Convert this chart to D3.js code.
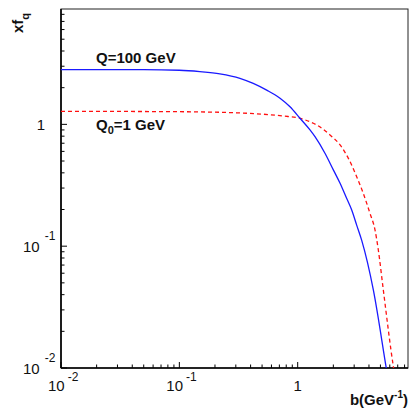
<!DOCTYPE html>
<html><head><meta charset="utf-8">
<script src="https://cdn.jsdelivr.net/npm/d3@7"></script>
<style>body{margin:0;background:#fff}svg{display:block}text{font-family:"Liberation Sans",Arial,sans-serif}</style>
</head><body>
<svg id="c" width="410" height="410"></svg>
<script>
// b values (GeV^-1) and xf_q for each scale
const bQ100 = [0.01, 0.05, 0.1, 0.149, 0.22, 0.325, 0.421, 0.547, 0.709, 0.861, 1.046, 1.27, 1.40, 1.70, 2.0, 2.28, 2.59, 2.86, 3.15, 3.47, 4.36, 5.58, 5.7];
const fQ100 = [2.81, 2.81, 2.78, 2.71, 2.60, 2.39, 2.17, 1.91, 1.64, 1.395, 1.122, 0.90, 0.792, 0.579, 0.423, 0.328, 0.247, 0.198, 0.149, 0.112, 0.0435, 0.0102, 0.0090];
const bQ1 = [0.01, 0.1, 0.3, 0.395, 0.756, 1.05, 1.27, 1.447, 1.875, 2.28, 2.68, 3.15, 3.58, 4.08, 4.50, 4.80, 5.29, 6.43, 6.6];
const fQ1 = [1.28, 1.27, 1.245, 1.23, 1.17, 1.12, 1.05, 0.989, 0.818, 0.678, 0.526, 0.372, 0.272, 0.186, 0.136, 0.093, 0.0437, 0.0103, 0.0088];
const xDecades = [0.01, 0.1, 1];
const xDecadeLabels = [["10","-2"],["10","-1"],["1",""]];
const yDecades = [0.01, 0.1, 1];
const yDecadeLabels = [["10","-2"],["10","-1"],["1",""]];
const seriesLabels = ["Q=100 GeV", "Q", "0", "=1 GeV"];

const L=61, R=408, T=9, B=368;
const x = d3.scaleLog().domain([0.01, 8.55]).range([L, R]);
const y = d3.scaleLog().domain([0.01, 8.85]).range([B, T]);
const svg = d3.select("#c");

svg.append("clipPath").attr("id","clip").append("rect")
  .attr("x",L).attr("y",T).attr("width",R-L).attr("height",B-T);

// minor & major ticks
function minorTicks(dom){
  const out=[];
  for(let e=-2;e<=1;e++){for(let k=1;k<=9;k++){const v=k*Math.pow(10,e); if(v>=dom[0]*0.999&&v<=dom[1]) out.push({v,major:k===1});}}
  return out;
}
const g = svg.append("g");
minorTicks(x.domain()).forEach(t=>{
  const px = x(t.v);
  g.append("line").attr("x1",px).attr("x2",px).attr("y1",B).attr("y2",B-(t.major?6:3.5))
    .attr("stroke","#000").attr("stroke-width",1);
});
minorTicks(y.domain()).forEach(t=>{
  const py = y(t.v);
  g.append("line").attr("x1",L).attr("x2",L+(t.major?6:3.5)).attr("y1",py).attr("y2",py)
    .attr("stroke","#000").attr("stroke-width",1);
});

// frame
svg.append("rect").attr("x",L).attr("y",T).attr("width",R-L).attr("height",B-T)
  .attr("fill","none").attr("stroke","#222").attr("stroke-width",1);
svg.append("line").attr("x1",L).attr("x2",L).attr("y1",T).attr("y2",B).attr("stroke","#000").attr("stroke-width",1.6);
svg.append("line").attr("x1",L).attr("x2",R).attr("y1",B).attr("y2",B).attr("stroke","#000").attr("stroke-width",1.6);

// curves
const line = d3.line().x(d=>x(d[0])).y(d=>y(d[1])).curve(d3.curveMonotoneX);
const cg = svg.append("g").attr("clip-path","url(#clip)");
cg.append("path").datum(bQ1.map((b,i)=>[b,fQ1[i]])).attr("d",line)
  .attr("fill","none").attr("stroke","#ff1010").attr("stroke-width",1.3).attr("stroke-dasharray","4,3");
cg.append("path").datum(bQ100.map((b,i)=>[b,fQ100[i]])).attr("d",line)
  .attr("fill","none").attr("stroke","#1a1aff").attr("stroke-width",1.3);

// x tick labels
xDecades.forEach((v,i)=>{
  const [base,exp]=xDecadeLabels[i];
  const t = svg.append("text").attr("y",391).attr("font-size",15).attr("fill","#111");
  if(exp){
    t.attr("x",x(v)-13).attr("text-anchor","start");
    t.append("tspan").text(base);
    t.append("tspan").attr("dx",3).attr("dy",-10).attr("font-size",12).text(exp);
  } else {
    t.attr("x",x(v)).attr("text-anchor","middle").text(base);
  }
});
// y tick labels
yDecades.forEach((v,i)=>{
  const [base,exp]=yDecadeLabels[i];
  const t = svg.append("text").attr("y",y(v)+6).attr("font-size",15).attr("fill","#111");
  if(exp){
    t.attr("x",23).attr("text-anchor","start");
    t.append("tspan").text(base);
    t.append("tspan").attr("dx",5).attr("dy",-12).attr("font-size",12).text(exp);
  } else {
    t.attr("x",41).attr("text-anchor","middle").text(base);
  }
});

// axis titles
const yt = svg.append("text").attr("transform","translate(23,33) rotate(-90)")
  .attr("font-size",15).attr("font-weight","bold").attr("fill","#111");
yt.append("tspan").text("xf");
yt.append("tspan").attr("dy",6).attr("font-size",11).text("q");
const xt = svg.append("text").attr("x",408).attr("y",405).attr("text-anchor","end")
  .attr("font-size",15).attr("font-weight","bold").attr("fill","#111");
xt.append("tspan").text("b(GeV");
xt.append("tspan").attr("dy",-7).attr("font-size",10).text("-1");
xt.append("tspan").attr("dy",7).text(")");

// series labels
svg.append("text").attr("x",96).attr("y",63).attr("font-size",15).attr("font-weight","bold").attr("fill","#111")
  .text(seriesLabels[0]);
const q0 = svg.append("text").attr("x",96).attr("y",130).attr("font-size",15).attr("font-weight","bold").attr("fill","#111");
q0.append("tspan").text(seriesLabels[1]);
q0.append("tspan").attr("dy",4).attr("font-size",11).text(seriesLabels[2]);
q0.append("tspan").attr("dy",-4).text(seriesLabels[3]);
</script>
</body></html>
